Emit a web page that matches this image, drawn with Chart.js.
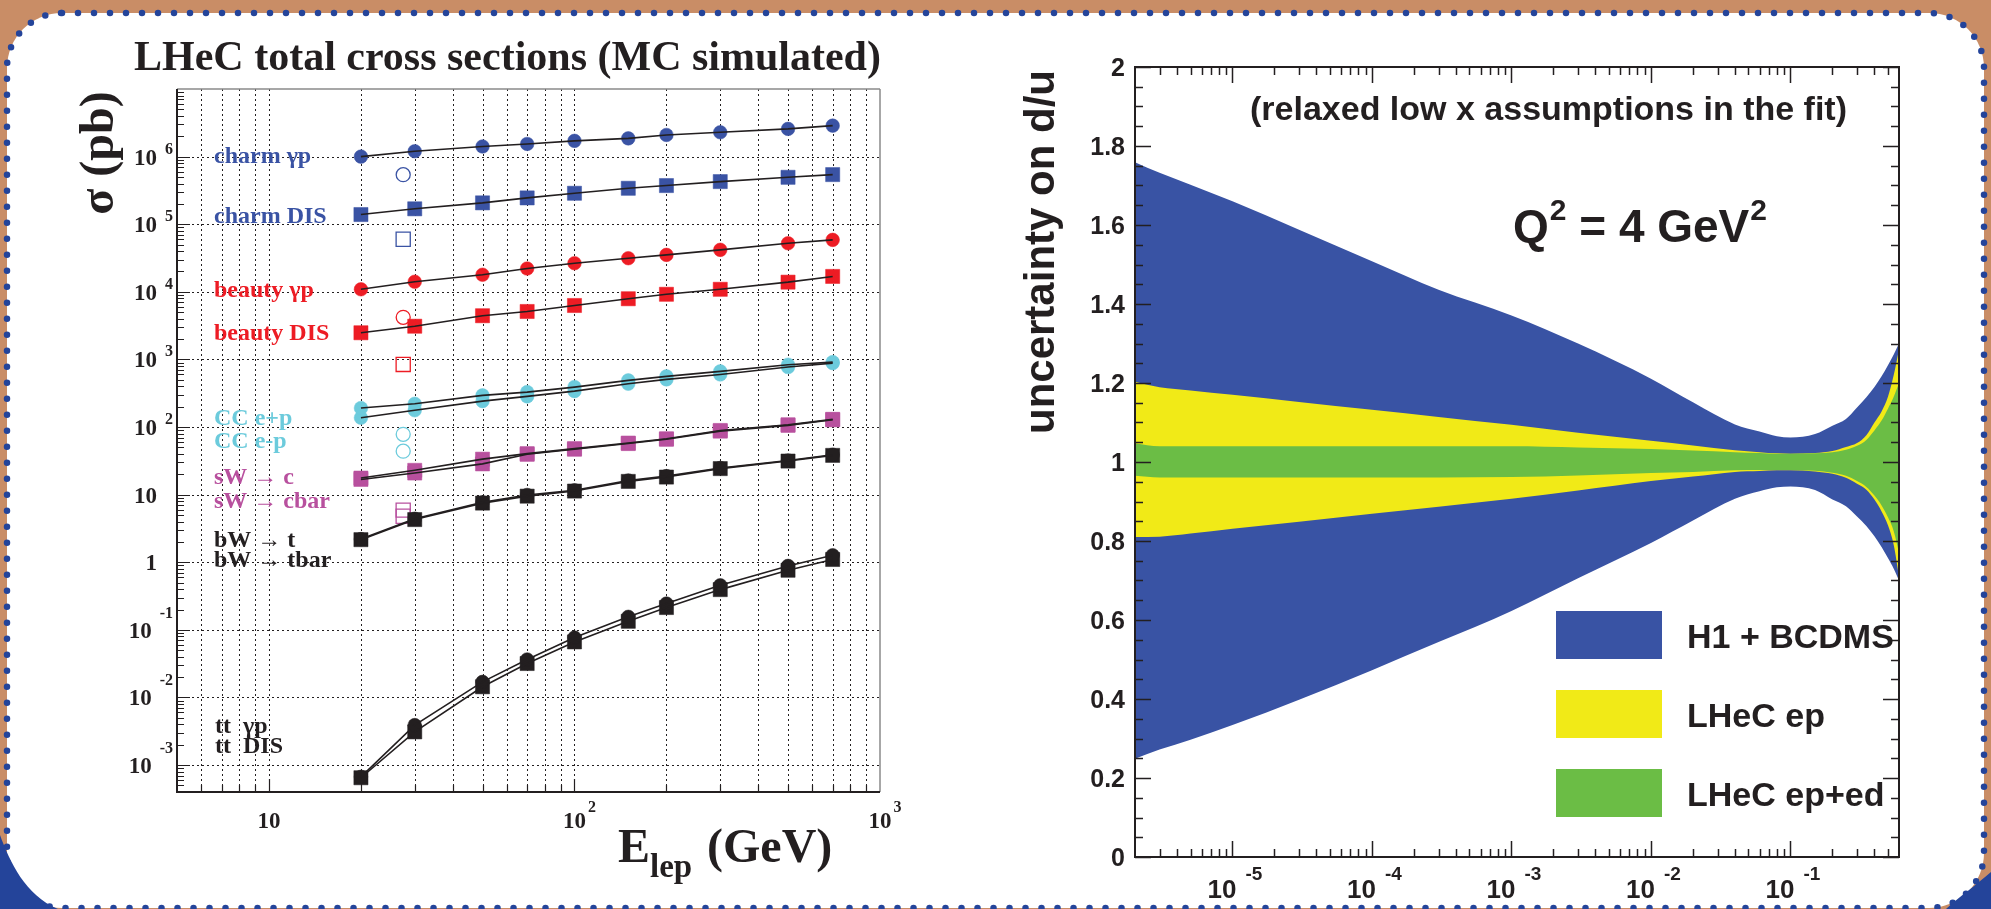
<!DOCTYPE html>
<html>
<head>
<meta charset="utf-8">
<script src="https://cdn.jsdelivr.net/npm/chart.js@4.4.1/dist/chart.umd.min.js"></script>
<style>
  html, body { margin: 0; padding: 0; background: #fff; }
  #page { position: relative; width: 1991px; height: 909px; overflow: hidden; }
  #page svg, #page canvas { position: absolute; left: 0; top: 0; }
</style>
</head>
<body>
<div id="page">
  <svg width="1991" height="909">
    <rect width="1991" height="909" fill="#c98d66"/>
    <rect x="7" y="13" width="1977" height="895" rx="55" fill="#fff"
          stroke="#24449a" stroke-width="6.5" stroke-dasharray="0 16" stroke-linecap="round"/>
    <path d="M0,835 C10,862 25,895 58,909 L0,909 Z" fill="#24449a"/>
    <path d="M1991,872 C1975,886 1960,896 1946,909 L1991,909 Z" fill="#24449a"/>
  </svg>
  <canvas id="xsec" width="1991" height="909"></canvas>
  <canvas id="ratio" width="1991" height="909"></canvas>
</div>
<script>
// left panel: LHeC total cross sections vs lepton energy
const energies = [20, 30, 50, 70, 100, 150, 200, 300, 500, 700];
const charmPhoto = [1.0e6, 1.2e6, 1.41e6, 1.54e6, 1.71e6, 1.86e6, 2.09e6, 2.29e6, 2.57e6, 2.87e6];
const charmDis = [1.39e5, 1.69e5, 2.07e5, 2.45e5, 2.87e5, 3.4e5, 3.73e5, 4.27e5, 4.94e5, 5.42e5];
const beautyPhoto = [1.09e4, 1.41e4, 1.79e4, 2.21e4, 2.65e4, 3.14e4, 3.52e4, 4.18e4, 5.23e4, 5.87e4];
const beautyDis = [2480, 3100, 4430, 5120, 6280, 7900, 9200, 10900, 13900, 16900];
const ccPlus = [191, 221, 294, 329, 390, 490, 561, 665, 836, 912];
const ccMinus = [137, 177, 242, 284, 340, 437, 507, 600, 771, 883];
const swC = [17.6, 22.9, 33.5, 40.4, 47.9, 58, 67, 89, 108, 130];
const swCbar = [16.8, 20.9, 28.5, 39.5, 47, 57, 66, 87, 106, 128];
const bwT = [2.2, 4.4, 7.7, 9.9, 11.6, 16.2, 18.8, 24.8, 32, 39];
const bwTbar = [2.16, 4.28, 7.5, 9.5, 11.3, 15.7, 18.2, 24.3, 31.4, 38.1];
const ttPhoto = [6.7e-4, 3.9e-3, 0.017, 0.0365, 0.077, 0.156, 0.245, 0.457, 0.883, 1.27];
const ttDis = [6.5e-4, 3.1e-3, 0.0144, 0.0318, 0.0664, 0.134, 0.214, 0.394, 0.762, 1.1];

// HERA reference points (open markers): [photoproduction / e+p, DIS / e-p]
const heraEnergy = 27.5;
const heraCharm = [5.4e5, 6.0e4];
const heraBeauty = [4200, 843];
const heraCC = [78, 44];
const heraSW = [5.9, 4.8];

const sigmaTickExps = [-3, -2, -1, 0, 1, 2, 3, 4, 5, 6];
const energyTickExps = [1, 2, 3];

// right panel: uncertainty on d/u at Q2 = 4 GeV2
const xValues = [2e-6, 3e-6, 5e-6, 1e-5, 3e-5, 1e-4, 3e-4, 1e-3, 3e-3, 1e-2, 2e-2, 4e-2, 6e-2, 8e-2,
  0.1, 0.15, 0.2, 0.25, 0.3, 0.35, 0.4, 0.45, 0.5, 0.55, 0.6];
const h1Upper = [1.759, 1.732, 1.702, 1.660, 1.588, 1.508, 1.436, 1.371, 1.300, 1.211, 1.151, 1.095, 1.077,
  1.065, 1.062, 1.071, 1.092, 1.109, 1.138, 1.164, 1.190, 1.217, 1.245, 1.272, 1.300];
const h1Lower = [0.249, 0.272, 0.297, 0.334, 0.398, 0.473, 0.544, 0.623, 0.706, 0.795, 0.852, 0.907, 0.926,
  0.936, 0.938, 0.929, 0.905, 0.888, 0.862, 0.838, 0.812, 0.785, 0.757, 0.730, 0.700];
const lhecUpper = [1.203, 1.189, 1.181, 1.170, 1.152, 1.132, 1.114, 1.094, 1.074, 1.054, 1.042, 1.030, 1.025,
  1.022, 1.021, 1.023, 1.028, 1.038, 1.048, 1.068, 1.100, 1.128, 1.165, 1.220, 1.285];
const lhecLower = [0.810, 0.811, 0.819, 0.831, 0.849, 0.869, 0.887, 0.907, 0.928, 0.952, 0.963, 0.975, 0.977,
  0.979, 0.979, 0.976, 0.970, 0.960, 0.945, 0.930, 0.905, 0.875, 0.840, 0.790, 0.710];
const lhecEdUpper = [1.047, 1.040, 1.040, 1.040, 1.040, 1.040, 1.040, 1.040, 1.037, 1.033, 1.029, 1.025, 1.023,
  1.021, 1.021, 1.022, 1.025, 1.031, 1.041, 1.056, 1.080, 1.105, 1.135, 1.165, 1.200];
const lhecEdLower = [0.965, 0.961, 0.961, 0.961, 0.961, 0.961, 0.961, 0.962, 0.966, 0.972, 0.975, 0.979, 0.980,
  0.980, 0.980, 0.978, 0.973, 0.965, 0.952, 0.937, 0.915, 0.890, 0.860, 0.825, 0.770];

const ratioTicks = [0, 0.2, 0.4, 0.6, 0.8, 1, 1.2, 1.4, 1.6, 1.8, 2];
const xTickExps = [-5, -4, -3, -2, -1];
const legendNames = ['H1 + BCDMS', 'LHeC ep', 'LHeC ep+ed'];

const ink = '#231f20';
const blue = '#3a53a4';
const red = '#ed1c24';
const cyan = '#6ccbdc';
const magenta = '#b8509e';
const bandBlue = '#3953a4';
const bandYellow = '#f1ea17';
const bandGreen = '#6bbd45';
const serif = '"Liberation Serif", "Times New Roman", serif';
const sans = '"Liberation Sans", Arial, sans-serif';

function pts(xs, ys) {
  return ys.map((v, i) => ({ x: xs[i], y: v }));
}

function seg(ctx, x1, y1, x2, y2) {
  ctx.moveTo(x1, y1);
  ctx.lineTo(x2, y2);
}

// ---------- left chart ----------
const series = [
  { values: charmPhoto, color: blue, shape: 'circle' },
  { values: charmDis, color: blue, shape: 'rect' },
  { values: beautyPhoto, color: red, shape: 'circle' },
  { values: beautyDis, color: red, shape: 'rect' },
  { values: ccPlus, color: cyan, shape: 'circle' },
  { values: ccMinus, color: cyan, shape: 'circle' },
  { values: swC, color: magenta, shape: 'rect' },
  { values: swCbar, color: magenta, shape: 'rect' },
  { values: bwT, color: ink, shape: 'circle' },
  { values: bwTbar, color: ink, shape: 'rect' },
  { values: ttPhoto, color: ink, shape: 'circle' },
  { values: ttDis, color: ink, shape: 'rect' }
];

const hera = [
  { values: heraCharm, color: blue, shapes: ['circle', 'rect'] },
  { values: heraBeauty, color: red, shapes: ['circle', 'rect'] },
  { values: heraCC, color: cyan, shapes: ['circle', 'circle'] },
  { values: heraSW, color: magenta, shapes: ['rect', 'rect'] }
];

const xsecSets = [];
series.forEach(s => {
  xsecSets.push({
    data: pts(energies, s.values), borderColor: ink, borderWidth: 1.6,
    pointRadius: 0, fill: false, tension: 0, order: 0
  });
  xsecSets.push({
    data: pts(energies, s.values), showLine: false, pointStyle: s.shape,
    pointRadius: s.shape === 'rect' ? 10 : 6.8,
    pointBackgroundColor: s.color, pointBorderColor: s.color, pointBorderWidth: 0.5, order: 1
  });
});
hera.forEach(h => {
  xsecSets.push({
    data: h.values.map(v => ({ x: heraEnergy, y: v })), showLine: false,
    pointStyle: h.shapes, pointRadius: h.shapes.map(p => p === 'rect' ? 10 : 7),
    pointBackgroundColor: 'rgba(255,255,255,0)', pointBorderColor: h.color, pointBorderWidth: 1.3, order: 1
  });
});

const seriesLabels = [
  { text: 'charm γp', color: blue, y: 163 },
  { text: 'charm DIS', color: blue, y: 223 },
  { text: 'beauty γp', color: red, y: 297 },
  { text: 'beauty DIS', color: red, y: 340 },
  { text: 'CC e+p', color: cyan, y: 425 },
  { text: 'CC e-p', color: cyan, y: 448 },
  { text: 'sW → c', color: magenta, y: 484 },
  { text: 'sW → cbar', color: magenta, y: 508 },
  { text: 'bW → t', color: ink, y: 547 },
  { text: 'bW → tbar', color: ink, y: 567 }
];

const xsecDecor = {
  id: 'xsecDecor',
  beforeDatasetsDraw(chart) {
    const { ctx, chartArea: a, scales: { x, y } } = chart;
    ctx.save();
    ctx.strokeStyle = ink;
    ctx.lineWidth = 1;
    ctx.setLineDash([2, 3]);
    ctx.beginPath();
    for (let d = 1; d <= 100; d *= 10) {
      for (let m = 1; m <= 9; m++) {
        const v = m * d;
        if (v <= 5 || v >= 1000) continue;
        const px = Math.round(x.getPixelForValue(v)) + 0.5;
        seg(ctx, px, a.top, px, a.bottom);
      }
    }
    sigmaTickExps.forEach(k => {
      const py = Math.round(y.getPixelForValue(10 ** k)) + 0.5;
      seg(ctx, a.left, py, a.right, py);
    });
    ctx.stroke();
    ctx.restore();
  },
  afterDraw(chart) {
    const { ctx, chartArea: a, scales: { x, y } } = chart;
    ctx.save();
    ctx.setLineDash([]);
    // frame
    ctx.strokeStyle = '#8a8a8a';
    ctx.lineWidth = 1.5;
    ctx.beginPath();
    seg(ctx, a.left, a.top, a.right, a.top);
    seg(ctx, a.right, a.top, a.right, a.bottom);
    ctx.stroke();
    ctx.strokeStyle = ink;
    ctx.lineWidth = 2;
    ctx.beginPath();
    seg(ctx, a.left, a.top, a.left, a.bottom + 1);
    seg(ctx, a.left - 1, a.bottom, a.right, a.bottom);
    ctx.stroke();
    // ticks
    ctx.lineWidth = 1.2;
    ctx.beginPath();
    for (let k = -4; k <= 6; k++) {
      for (let m = 1; m <= 9; m++) {
        const v = m * 10 ** k;
        if (v < y.min || v > y.max) continue;
        const py = Math.round(y.getPixelForValue(v)) + 0.5;
        seg(ctx, a.left, py, a.left + (m === 1 ? 13 : 7), py);
      }
    }
    for (let d = 1; d <= 1000; d *= 10) {
      for (let m = 1; m <= 9; m++) {
        const v = m * d;
        if (v <= 5 || v >= 1000) continue;
        const px = Math.round(x.getPixelForValue(v)) + 0.5;
        seg(ctx, px, a.bottom, px, a.bottom - (m === 1 ? 13 : 7));
      }
    }
    ctx.stroke();
    // y tick labels
    ctx.fillStyle = ink;
    sigmaTickExps.forEach(k => {
      const py = y.getPixelForValue(10 ** k);
      ctx.textAlign = 'right';
      if (k === 0 || k === 1) {
        ctx.font = `bold 23px ${serif}`;
        ctx.fillText(k === 0 ? '1' : '10', a.left - 20, py + 8);
      } else {
        const e = String(k);
        ctx.font = `bold 16px ${serif}`;
        const ew = ctx.measureText(e).width;
        ctx.fillText(e, a.left - 4, py + (k < 0 ? -12 : -3));
        ctx.font = `bold 23px ${serif}`;
        ctx.fillText('10', a.left - 4 - ew - 8, py + 8);
      }
    });
    // x tick labels
    energyTickExps.forEach(k => {
      const px = x.getPixelForValue(10 ** k);
      ctx.font = `bold 23px ${serif}`;
      ctx.textAlign = 'center';
      ctx.fillText('10', px, a.bottom + 36);
      const w = ctx.measureText('10').width;
      if (k > 1) {
        ctx.font = `bold 16px ${serif}`;
        ctx.textAlign = 'left';
        ctx.fillText(String(k), px + w / 2 + 2, a.bottom + 20);
      }
    });
    // series labels
    ctx.textAlign = 'left';
    ctx.font = `bold 24px ${serif}`;
    seriesLabels.forEach(l => {
      ctx.fillStyle = l.color;
      ctx.fillText(l.text, a.left + 37, l.y);
    });
    ctx.fillStyle = ink;
    ctx.fillText('tt', a.left + 38, 733);
    ctx.fillText('γp', a.left + 66, 733);
    ctx.fillText('tt', a.left + 38, 753);
    ctx.fillText('DIS', a.left + 66, 753);
    // title
    ctx.font = `bold 42px ${serif}`;
    ctx.fillText('LHeC total cross sections (MC simulated)', 134, 70);
    // x title
    ctx.font = `bold 48px ${serif}`;
    ctx.fillText('E', 618, 862);
    ctx.font = `bold 33px ${serif}`;
    ctx.fillText('lep', 650, 877);
    ctx.font = `bold 48px ${serif}`;
    ctx.fillText('(GeV)', 707, 862);
    // y title
    ctx.translate(113, 153);
    ctx.rotate(-Math.PI / 2);
    ctx.textAlign = 'center';
    ctx.fillText('σ (pb)', 0, 0);
    ctx.restore();
  }
};

new Chart(document.getElementById('xsec'), {
  type: 'line',
  data: { datasets: xsecSets },
  options: {
    responsive: false,
    animation: false,
    devicePixelRatio: 1,
    layout: { autoPadding: false, padding: { left: 177, top: 89, right: 1111, bottom: 117 } },
    plugins: { legend: { display: false }, tooltip: { enabled: false } },
    scales: {
      x: {
        type: 'logarithmic', min: 5, max: 1000,
        ticks: { display: false }, grid: { display: false }, border: { display: false },
        afterFit: s => { s.height = 0; }
      },
      y: {
        type: 'logarithmic', min: 4e-4, max: 1e7,
        ticks: { display: false }, grid: { display: false }, border: { display: false },
        afterFit: s => { s.width = 0; }
      }
    }
  },
  plugins: [xsecDecor]
});

// ---------- right chart ----------
function band(values, color, fillNext) {
  return {
    data: pts(xValues, values), fill: fillNext ? '+1' : false,
    backgroundColor: color, borderColor: 'rgba(0,0,0,0)', borderWidth: 0,
    pointRadius: 0, cubicInterpolationMode: 'monotone'
  };
}

const ratioDecor = {
  id: 'ratioDecor',
  afterDraw(chart) {
    const { ctx, chartArea: a, scales: { x, y } } = chart;
    ctx.save();
    ctx.strokeStyle = ink;
    ctx.fillStyle = ink;
    ctx.lineWidth = 2;
    ctx.strokeRect(a.left, a.top, a.right - a.left, a.bottom - a.top);
    // ticks
    ctx.lineWidth = 1.5;
    ctx.beginPath();
    for (let i = 0; i <= 40; i++) {
      const py = Math.round(y.getPixelForValue(i * 0.05)) + 0.5;
      const len = i % 4 === 0 ? 16 : 8;
      seg(ctx, a.left, py, a.left + len, py);
      seg(ctx, a.right, py, a.right - len, py);
    }
    for (let k = -6; k <= -1; k++) {
      for (let m = 1; m <= 9; m++) {
        const v = m * 10 ** k;
        if (v <= x.min || v >= x.max) continue;
        const px = Math.round(x.getPixelForValue(v)) + 0.5;
        const len = m === 1 ? 16 : 8;
        seg(ctx, px, a.top, px, a.top + len);
        seg(ctx, px, a.bottom, px, a.bottom - len);
      }
    }
    ctx.stroke();
    // y labels
    ctx.font = `bold 25px ${sans}`;
    ctx.textAlign = 'right';
    ratioTicks.forEach(v => {
      const py = y.getPixelForValue(v);
      const t = Number.isInteger(v) ? String(v) : v.toFixed(1);
      ctx.fillText(t, a.left - 10, py + 9);
    });
    // x labels
    xTickExps.forEach(k => {
      const px = x.getPixelForValue(10 ** k);
      ctx.font = `bold 26px ${sans}`;
      ctx.textAlign = 'right';
      ctx.fillText('10', px + 4, a.bottom + 41);
      ctx.font = `bold 19px ${sans}`;
      ctx.textAlign = 'left';
      ctx.fillText(String(k), px + 13, a.bottom + 23);
    });
    // annotations
    ctx.font = `bold 34px ${sans}`;
    ctx.fillText('(relaxed low x assumptions in the fit)', 1250, 120);
    ctx.font = `bold 46px ${sans}`;
    ctx.fillText('Q', 1513, 242);
    let cx = 1513 + ctx.measureText('Q').width;
    ctx.font = `bold 30px ${sans}`;
    ctx.fillText('2', cx + 1, 220);
    cx += ctx.measureText('2').width + 1;
    ctx.font = `bold 46px ${sans}`;
    ctx.fillText(' = 4 GeV', cx, 242);
    cx += ctx.measureText(' = 4 GeV').width;
    ctx.font = `bold 30px ${sans}`;
    ctx.fillText('2', cx + 1, 220);
    // legend
    const colors = [bandBlue, bandYellow, bandGreen];
    ctx.font = `bold 34px ${sans}`;
    legendNames.forEach((name, i) => {
      const top = 611 + i * 79;
      ctx.fillStyle = colors[i];
      ctx.fillRect(1556, top, 106, 48);
      ctx.fillStyle = ink;
      ctx.fillText(name, 1687, top + 37);
    });
    // y title
    ctx.font = `bold 42px ${sans}`;
    ctx.translate(1054, 252);
    ctx.rotate(-Math.PI / 2);
    ctx.textAlign = 'center';
    ctx.fillText('uncertainty on d/u', 0, 0);
    ctx.restore();
  }
};

new Chart(document.getElementById('ratio'), {
  type: 'line',
  data: {
    datasets: [
      band(lhecEdUpper, bandGreen, true),
      band(lhecEdLower, bandGreen, false),
      band(lhecUpper, bandYellow, true),
      band(lhecLower, bandYellow, false),
      band(h1Upper, bandBlue, true),
      band(h1Lower, bandBlue, false)
    ]
  },
  options: {
    responsive: false,
    animation: false,
    devicePixelRatio: 1,
    layout: { autoPadding: false, padding: { left: 1135, top: 67, right: 92, bottom: 52 } },
    plugins: { legend: { display: false }, tooltip: { enabled: false } },
    scales: {
      x: {
        type: 'logarithmic', min: 2e-6, max: 0.6,
        ticks: { display: false }, grid: { display: false }, border: { display: false },
        afterFit: s => { s.height = 0; }
      },
      y: {
        type: 'linear', min: 0, max: 2,
        ticks: { display: false }, grid: { display: false }, border: { display: false },
        afterFit: s => { s.width = 0; }
      }
    }
  },
  plugins: [ratioDecor]
});
</script>
</body>
</html>
